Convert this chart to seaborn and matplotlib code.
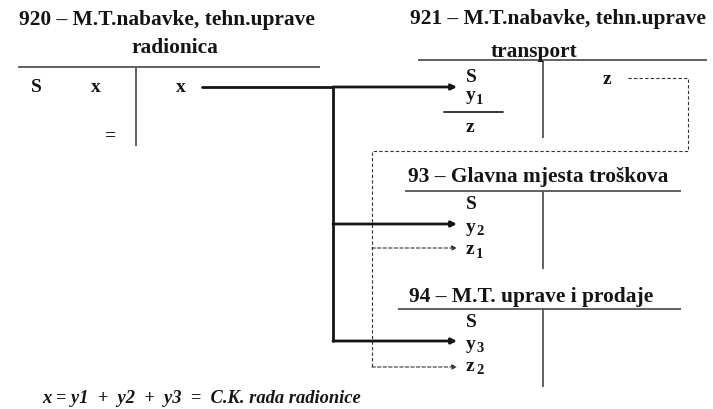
import matplotlib
matplotlib.use('Agg')
from matplotlib import pyplot as plt
import seaborn as sns

sns.set_theme(style='white')
plt.rcParams['font.family'] = ['Liberation Serif', 'DejaVu Serif']

# account titles and entries (text content of the diagram)
acc_920 = ['920 – M.T.nabavke, tehn.uprave', 'radionica']
acc_921 = ['921 – M.T.nabavke, tehn.uprave', 'transport']
acc_93 = '93 – Glavna mjesta troškova'
acc_94 = '94 – M.T. uprave i prodaje'
debit_920 = ['S', 'x', '=']
credit_920 = 'x'
debit_921 = [('S', ''), ('y', '1'), ('z', '')]
credit_921 = 'z'
debit_93 = [('S', ''), ('y', '2'), ('z', '1')]
debit_94 = [('S', ''), ('y', '3'), ('z', '2')]
formula = 'x = y1  +  y2  +  y3  =  C.K. rada radionice'

fig = plt.figure(figsize=(7.13, 4.10), dpi=100)
ax = fig.add_axes([0, 0, 1, 1])
ax.set_xlim(0, 713)
ax.set_ylim(410, 0)
ax.axis('off')

TC = '#151515'
GC = '#555555'
FS_T = 15.4
FS_E = 14


def txt(x, y, s, size=FS_E, ha='left', **kw):
    ax.text(x, y, s, fontsize=size, fontweight='bold', ha=ha, va='center', color=TC, **kw)


def entry(x, y, main, sub):
    txt(x, y, main)
    if sub:
        txt(x + 10, y + 4, sub, size=10.5)


def taccount(x0, x1, xm, y0, y1):
    ax.plot([x0, x1], [y0, y0], color=GC, lw=1.3, solid_capstyle='butt')
    ax.plot([xm, xm], [y0, y1], color=GC, lw=1.3, solid_capstyle='butt')


def arrow(x0, x1, y, dotted=False):
    if dotted:
        props = dict(arrowstyle='-|>', lw=0.8, ls=(0, (3, 2)), color='#333333', mutation_scale=7,
                     shrinkA=0, shrinkB=0)
    else:
        props = dict(arrowstyle='-|>', lw=2.0, color=TC, mutation_scale=8, shrinkA=0, shrinkB=0)
    ax.annotate('', xy=(x1, y), xytext=(x0, y), arrowprops=props)


# 920
txt(167, 20, acc_920[0], size=FS_T, ha='center')
txt(175, 48, acc_920[1], size=FS_T, ha='center')
taccount(18, 320, 136, 68, 147)
txt(31, 87, debit_920[0])
txt(91, 87, debit_920[1])
txt(105, 136, debit_920[2])
txt(176, 87, credit_920)

# 921
txt(558, 19, acc_921[0], size=FS_T, ha='center')
txt(534, 52, acc_921[1], size=FS_T, ha='center')
taccount(418, 707, 543, 61, 139)
for (m, s), yy in zip(debit_921, [78, 96, 127]):
    entry(466, yy, m, s)
ax.plot([444, 503], [113, 113], color=TC, lw=1.2)
txt(603, 79, credit_921)

# 93
txt(538, 177, acc_93, size=FS_T, ha='center')
taccount(405, 681, 543, 192, 270)
for (m, s), yy in zip(debit_93, [205, 228, 250]):
    entry(466, yy, m, s)

# 94
txt(531, 297, acc_94, size=FS_T, ha='center')
taccount(398, 681, 543, 310, 388)
for (m, s), yy in zip(debit_94, [323, 345, 367]):
    entry(466, yy, m, s)

# solid flows x -> y1, y2, y3
ax.plot([202, 333], [88, 88], color=TC, lw=2.0)
ax.plot([333, 333], [88, 342], color=TC, lw=2.0)
arrow(333, 457, 88)
arrow(333, 457, 225)
arrow(333, 457, 342)

# dotted flows z -> z1, z2
dash = dict(color='#333333', lw=0.8, ls=(0, (3, 2)))
ax.plot([628, 688, 688, 372, 372], [79, 79, 152, 152, 368], **dash)
arrow(372, 457, 249, dotted=True)
arrow(372, 457, 368, dotted=True)

ax.text(42, 399, formula, fontsize=13.3, fontweight='bold', fontstyle='italic',
        ha='left', va='center', color=TC)

plt.savefig('out.png', dpi=100)
